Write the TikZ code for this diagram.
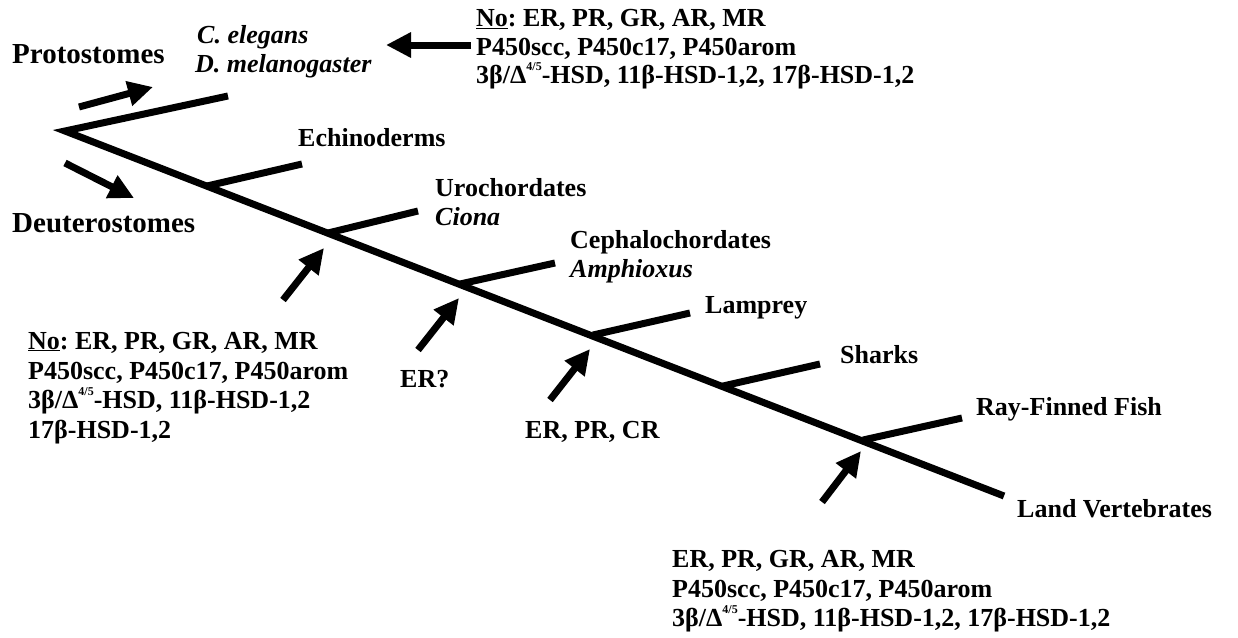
\documentclass[tikz,border=0pt]{standalone}
\usepackage{fontspec}
\setmainfont{Liberation Serif}
\usetikzlibrary{arrows.meta}
\frenchspacing
\newcommand\dfive{\raisebox{0.5em}{\fontsize{12}{12}\selectfont 4/5}}
\tikzset{
  branch/.style={line width=7pt, line cap=butt},
  bigarrow/.style={line width=7pt, line cap=butt, -{Triangle[length=25pt,width=24pt]}},
  lbl/.style={anchor=base west, inner sep=0pt, font=\fontsize{26}{30}\selectfont\bfseries},
  biglbl/.style={anchor=base west, inner sep=0pt, font=\fontsize{29}{33}\selectfont\bfseries},
  itlbl/.style={anchor=base west, inner sep=0pt, font=\fontsize{26}{30}\selectfont\bfseries\itshape},
}
\begin{document}
\begin{tikzpicture}[x=1pt,y=-1pt]
\useasboundingbox (0,0) rectangle (1238,637);
% tree coordinates
\coordinate (root) at (65,131);
\coordinate (mainend) at (1004,496);
\coordinate (protoend) at (228,96);
\coordinate (echb) at (207,186);   \coordinate (eche) at (302,164);
\coordinate (urob) at (328,233);   \coordinate (uroe) at (418,211);
\coordinate (cepb) at (460,284);   \coordinate (cepe) at (555,263);
\coordinate (lamb) at (593,335);   \coordinate (lame) at (690,313);
\coordinate (shab) at (723,386);   \coordinate (shae) at (820,364);
\coordinate (rayb) at (863,440);   \coordinate (raye) at (962,418);
% tree
\draw[branch] (protoend) -- (root) -- (mainend);
\draw[branch] (echb) -- (eche);
\draw[branch] (urob) -- (uroe);
\draw[branch] (cepb) -- (cepe);
\draw[branch] (lamb) -- (lame);
\draw[branch] (shab) -- (shae);
\draw[branch] (rayb) -- (raye);
% arrows
\coordinate (pa1) at (79,107);  \coordinate (pa2) at (153,87);
\coordinate (da1) at (65,163);  \coordinate (da2) at (134,198);
\coordinate (ta1) at (471,45);  \coordinate (ta2) at (386,45);
\coordinate (ua1) at (283,300); \coordinate (ua2) at (324,248);
\coordinate (ea1) at (418,350); \coordinate (ea2) at (459,298);
\coordinate (ca1) at (550,400); \coordinate (ca2) at (590,349);
\coordinate (ba1) at (822,502); \coordinate (ba2) at (861,451);
\draw[bigarrow] (pa1) -- (pa2);
\draw[bigarrow] (da1) -- (da2);
\draw[bigarrow] (ta1) -- (ta2);
\draw[bigarrow] (ua1) -- (ua2);
\draw[bigarrow] (ea1) -- (ea2);
\draw[bigarrow] (ca1) -- (ca2);
\draw[bigarrow] (ba1) -- (ba2);
% labels
\node[biglbl] (proto) at (12,63) {Protostomes};
\node[biglbl] (deut) at (12,232) {Deuterostomes};
\node[itlbl] (cel) at (197,43) {C. elegans};
\node[itlbl] (dmel) at (195,72) {D. melanogaster};
\node[lbl] (ech) at (298,146) {Echinoderms};
\node[lbl] (uro) at (435,196) {Urochordates};
\node[itlbl] (cio) at (435,225) {Ciona};
\node[lbl] (cep) at (570,248) {Cephalochordates};
\node[itlbl] (amp) at (570,277) {Amphioxus};
\node[lbl] (lam) at (705,313) {Lamprey};
\node[lbl] (sha) at (840,363) {Sharks};
\node[lbl] (ray) at (976,415) {Ray-Finned Fish};
\node[lbl] (land) at (1017,517) {Land Vertebrates};
% top right list
\node[lbl] (t1) at (476,27) {\underline{No}: ER, PR, GR, AR, MR};
\node[lbl] (t2) at (476,55) {P450scc, P450c17, P450arom};
\node[lbl] (t3) at (476,83) {3β/Δ\dfive-HSD, 11β-HSD-1,2, 17β-HSD-1,2};
% left list
\node[lbl] (l1) at (28,349) {\underline{No}: ER, PR, GR, AR, MR};
\node[lbl] (l2) at (28,379) {P450scc, P450c17, P450arom};
\node[lbl] (l3) at (28,408) {3β/Δ\dfive-HSD, 11β-HSD-1,2};
\node[lbl] (l4) at (28,438) {17β-HSD-1,2};
% single labels
\node[lbl] (erq) at (400,387) {ER?};
\node[lbl] (erpc) at (525,438) {ER, PR, CR};
% bottom list
\node[lbl] (b1) at (672,567) {ER, PR, GR, AR, MR};
\node[lbl] (b2) at (672,597) {P450scc, P450c17, P450arom};
\node[lbl] (b3) at (672,626) {3β/Δ\dfive-HSD, 11β-HSD-1,2, 17β-HSD-1,2};
\end{tikzpicture}
\end{document}
